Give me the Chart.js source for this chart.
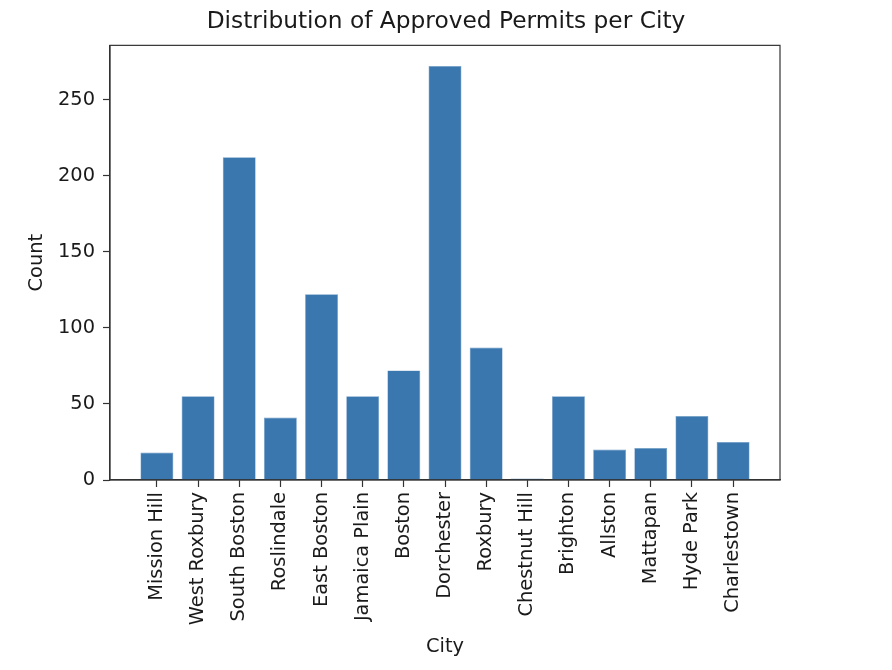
<!DOCTYPE html>
<html>
<head>
<meta charset="utf-8">
<script src="https://cdn.jsdelivr.net/npm/chart.js@4/dist/chart.umd.min.js"></script>
<style>
  html, body { margin: 0; padding: 0; background: #fff; }
  #wrap { width: 892px; height: 670px; }
</style>
</head>
<body>
<div id="wrap"><canvas id="c" width="892" height="670"></canvas></div>
<script>
const cities = ["Mission Hill", "West Roxbury", "South Boston", "Roslindale", "East Boston",
  "Jamaica Plain", "Boston", "Dorchester", "Roxbury", "Chestnut Hill", "Brighton",
  "Allston", "Mattapan", "Hyde Park", "Charlestown"];
const counts = [18, 55, 212, 41, 122, 55, 72, 272, 87, 1, 55, 20, 21, 42, 25];
const yTicks = [0, 50, 100, 150, 200, 250];

const FONT = "'DejaVu Sans', sans-serif";
const TXT = '#1a1a1a';

const framePlugin = {
  id: 'frame',
  afterDraw(chart) {
    const a = chart.chartArea, ctx = chart.ctx;
    ctx.save();
    ctx.strokeStyle = '#333';
    ctx.lineWidth = 1.2;
    ctx.strokeRect(a.left, a.top, a.right - a.left, a.bottom - a.top);
    ctx.restore();
  }
};

new Chart(document.getElementById('c'), {
  type: 'bar',
  data: {
    datasets: [{
      data: cities.map((c, i) => ({ x: i, y: counts[i] })),
      backgroundColor: '#3a77af',
      borderColor: '#6f9cc6',
      borderWidth: 0.6,
      barPercentage: 0.8,
      categoryPercentage: 1.0,
      yAxisID: 'y'
    }]
  },
  options: {
    responsive: false,
    animation: false,
    layout: { padding: 0 },
    plugins: {
      legend: { display: false },
      tooltip: { enabled: false },
      title: {
        display: true,
        text: 'Distribution of Approved Permits per City',
        color: TXT,
        font: { family: FONT, size: 23.3, weight: 'normal' },
        padding: { top: 8, bottom: 9.4 }
      }
    },
    scales: {
      x: {
        type: 'linear',
        min: -1.14,
        max: 15.14,
        offset: false,
        afterBuildTicks: (s) => { s.ticks = cities.map((_, i) => ({ value: i })); },
        afterFit: (s) => { s.height = 190; },
        grid: { offset: false, drawOnChartArea: false, drawTicks: true, tickLength: 7, color: '#333', tickWidth: 1.2 },
        border: { display: true, color: '#333', width: 1.2 },
        ticks: {
          autoSkip: false,
          minRotation: 90,
          maxRotation: 90,
          padding: 5,
          color: TXT,
          font: { family: FONT, size: 19.4 },
          callback: (v) => cities[v]
        },
        title: {
          display: true,
          text: 'City',
          color: TXT,
          font: { family: FONT, size: 19.4 },
          padding: { top: 11, bottom: 11 }
        }
      },
      y: {
        min: 0,
        max: 285.6,
        afterBuildTicks: (s) => { s.ticks = yTicks.map(v => ({ value: v })); },
        afterFit: (s) => { s.width = 110; },
        grid: { drawOnChartArea: false, drawTicks: true, tickLength: 7, color: '#333', tickWidth: 1.2 },
        border: { display: true, color: '#333', width: 1.2 },
        ticks: {
          padding: 8,
          color: TXT,
          font: { family: FONT, size: 19.4 }
        },
        title: {
          display: true,
          text: 'Count',
          color: TXT,
          font: { family: FONT, size: 19.4 },
          padding: { top: 25, bottom: 10 }
        }
      },
      yRight: {
        position: 'right',
        min: 0,
        max: 285.6,
        afterBuildTicks: (s) => { s.ticks = []; },
        afterFit: (s) => { s.width = 112; },
        grid: { display: false },
        border: { display: false },
        ticks: { display: false }
      }
    }
  },
  plugins: [framePlugin]
});
</script>
</body>
</html>
